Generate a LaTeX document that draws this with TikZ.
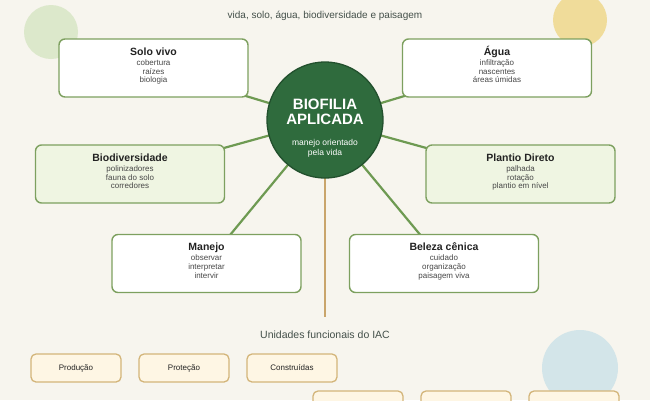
\documentclass[tikz,border=0pt]{standalone}
\usepackage{fontspec}
\setmainfont{Liberation Sans}
\usetikzlibrary{calc}
\pgfdeclarelayer{deco}
\pgfdeclarelayer{links}
\pgfsetlayers{deco,links,main}
\definecolor{bgc}{HTML}{F7F5EE}
\definecolor{dotgreen}{HTML}{DCE8CB}
\definecolor{dotyellow}{HTML}{F0DC9A}
\definecolor{dotblue}{HTML}{D3E5E9}
\definecolor{cardline}{HTML}{7DA05F}
\definecolor{cardfill}{HTML}{EFF5E2}
\definecolor{linkc}{HTML}{6E9A52}
\definecolor{hubc}{HTML}{2F6B3D}
\definecolor{hubline}{HTML}{22502D}
\definecolor{tanc}{HTML}{C9A56B}
\definecolor{unitline}{HTML}{D3B57A}
\definecolor{unitfill}{HTML}{FEF6E4}
\definecolor{ttlc}{HTML}{222222}
\definecolor{itmc}{HTML}{474747}
\definecolor{subc}{HTML}{44504A}
\newcommand{\cardtext}[5]{%
  \node[ttl] (#1-t) at ($(#1.north)+(0,17)$) {#2};
  \node[itm] (#1-a) at ($(#1.north)+(0,27)$) {#3};
  \node[itm] (#1-b) at ($(#1.north)+(0,35.7)$) {#4};
  \node[itm] (#1-c) at ($(#1.north)+(0,44.4)$) {#5};
}
\begin{document}
\begin{tikzpicture}[x=1pt,y=-1pt,
  card/.style={draw=cardline, line width=1.4pt, rounded corners=6pt, fill=white,
    minimum width=189pt, minimum height=58pt, inner sep=0pt},
  cardg/.style={card, fill=cardfill},
  ttl/.style={anchor=base, inner sep=0pt, text=ttlc, font=\fontsize{10.5}{12}\selectfont\bfseries},
  itm/.style={anchor=base, inner sep=0pt, text=itmc, font=\fontsize{8}{9}\selectfont},
  link/.style={draw=linkc, line width=2.2pt},
  unit/.style={draw=unitline, line width=1.3pt, rounded corners=5pt, fill=unitfill,
    minimum width=90pt, minimum height=28pt, inner sep=0pt, text=ttlc,
    font=\fontsize{8}{9}\selectfont},
  hubtxt/.style={anchor=base, inner sep=0pt, text=white}
]
\clip (0,0) rectangle (650,400);
\useasboundingbox (0,0) rectangle (650,400);
\begin{pgfonlayer}{deco}
  \fill[bgc] (0,0) rectangle (650,400);
  \fill[dotgreen] (51,32) circle[radius=27];
  \fill[dotyellow] (580,20) circle[radius=27];
  \fill[dotblue] (580,368) circle[radius=38];
\end{pgfonlayer}

\node[anchor=base, inner sep=0pt, text=subc, font=\fontsize{10}{11}\selectfont] (sub) at (325,18.5) {vida, solo, água, biodiversidade e paisagem};

% hub
\node[circle, fill=hubc, draw=hubline, line width=1.3pt, minimum size=116pt, inner sep=0pt] (hub) at (325,120) {};
\node[hubtxt, font=\fontsize{15}{17}\selectfont\bfseries] (hub1) at ($(hub.center)+(0,-10.5)$) {BIOFILIA};
\node[hubtxt, font=\fontsize{15}{17}\selectfont\bfseries] (hub2) at ($(hub.center)+(0,4)$) {APLICADA};
\node[hubtxt, font=\fontsize{8.5}{10}\selectfont] (hub3) at ($(hub.center)+(0,25.5)$) {manejo orientado};
\node[hubtxt, font=\fontsize{8.5}{10}\selectfont] (hub4) at ($(hub.center)+(0,35.5)$) {pela vida};

% cards
\node[card]  (solo)    at (153.5,68) {};
\node[card]  (agua)    at (497,68) {};
\node[cardg] (bio)     at (130,174) {};
\node[cardg] (plantio) at (520.5,174) {};
\node[card]  (manejo)  at (206.5,263.5) {};
\node[card]  (beleza)  at (444,263.5) {};

\cardtext{solo}{Solo vivo}{cobertura}{raízes}{biologia}
\cardtext{agua}{Água}{infiltração}{nascentes}{áreas úmidas}
\cardtext{bio}{Biodiversidade}{polinizadores}{fauna do solo}{corredores}
\cardtext{plantio}{Plantio Direto}{palhada}{rotação}{plantio em nível}
\cardtext{manejo}{Manejo}{observar}{interpretar}{intervir}
\cardtext{beleza}{Beleza cênica}{cuidado}{organização}{paisagem viva}

\coordinate (uend) at (325,317);
\begin{pgfonlayer}{links}
  \foreach \n in {solo,agua,bio,plantio,manejo,beleza}
    \draw[link] (hub.center) -- (\n.center);
  \draw[draw=tanc, line width=1.5pt] (hub.center) -- (uend);
\end{pgfonlayer}

\node[anchor=base, inner sep=0pt, text=subc, font=\fontsize{10.5}{12}\selectfont] (utitle) at (325,338) {Unidades funcionais do IAC};

\node[unit] (u1) at (76,368) {Produção};
\node[unit] (u2) at (184,368) {Proteção};
\node[unit] (u3) at (292,368) {Construídas};
\node[unit] (u4) at (358,405) {};
\node[unit] (u5) at (466,405) {};
\node[unit] (u6) at (574,405) {};
\end{tikzpicture}
\end{document}
